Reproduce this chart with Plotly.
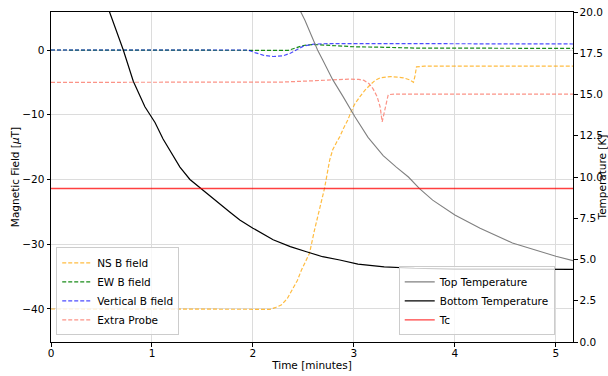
import plotly.graph_objects as go

# ---- magnetic field probes (time in minutes, field in µT) ----
ns_t = [0, 1.0, 1.9, 2.0, 2.1, 2.17, 2.22, 2.28, 2.34, 2.4, 2.44, 2.48, 2.52, 2.56,
        2.61, 2.66, 2.71, 2.76, 2.79, 2.83, 2.86, 2.9, 2.94, 2.97, 3.01, 3.06, 3.11,
        3.16, 3.21, 3.26, 3.31, 3.36, 3.43, 3.49, 3.55, 3.59, 3.605, 3.62, 3.7, 4.0, 5.17]
ns_b = [-40.0, -40.0, -40.05, -40.1, -40.1, -40.05, -39.8, -39.4, -38.4, -36.8, -35.6,
        -34.0, -32.8, -31.4, -27.8, -24.7, -21.3, -17.0, -15.4, -14.2, -13.4, -12.0,
        -10.8, -9.6, -8.3, -7.2, -6.2, -5.4, -4.7, -4.3, -4.15, -4.1, -4.2, -4.3, -4.6,
        -5.0, -4.0, -2.6, -2.5, -2.5, -2.5]

ew_t = [0, 1.95, 2.0, 2.2, 2.35, 2.42, 2.5, 2.6, 2.7, 2.85, 3.0, 3.3, 3.6, 5.17]
ew_b = [0, 0, -0.05, -0.1, -0.05, 0.3, 0.7, 0.85, 0.75, 0.6, 0.5, 0.42, 0.3, 0.25]

vert_t = [0, 1.0, 1.95, 2.02, 2.1, 2.2, 2.3, 2.37, 2.43, 2.5, 2.6, 2.75, 3.0, 3.5, 3.55, 5.17]
vert_b = [0, 0.02, 0, -0.4, -0.8, -1.0, -0.9, -0.5, 0.0, 0.6, 0.9, 1.0, 1.0, 1.0, 0.93, 0.93]

probe_t = [0, 2.0, 2.3, 2.6, 2.8, 2.95, 3.05, 3.1, 3.15, 3.19, 3.23, 3.26, 3.28, 3.3,
           3.32, 3.34, 3.4, 5.17]
probe_b = [-5.0, -5.0, -4.95, -4.75, -4.6, -4.5, -4.55, -4.7, -5.2, -6.0, -7.2, -8.8,
           -11.1, -9.5, -8.2, -6.9, -6.8, -6.8]

# ---- cryostat temperatures (K) ----
top_t = [2.30, 2.45, 2.515, 2.64, 2.69, 2.79, 2.89, 3.01, 3.14, 3.29, 3.42, 3.54, 3.65,
         3.78, 4.0, 4.25, 4.57, 4.84, 5.0, 5.17]
top_temp = [22.5, 20.3, 19.5, 17.7, 17.1, 15.9, 14.9, 13.65, 12.4, 11.3, 10.6, 10.0,
            9.3, 8.6, 7.7, 6.9, 6.0, 5.47, 5.2, 4.93]

bot_t = [0.45, 0.58, 0.716, 0.815, 0.93, 0.997, 1.03, 1.11, 1.2, 1.277, 1.376, 1.475,
         1.57, 1.67, 1.77, 1.87, 2.0, 2.2, 2.37, 2.53, 2.69, 2.86, 3.04, 3.3, 3.6, 4.0,
         4.5, 5.17]
bot_temp = [22.5, 20.0, 17.7, 15.8, 14.26, 13.65, 13.3, 12.3, 11.35, 10.6, 9.85, 9.35,
            8.85, 8.35, 7.88, 7.4, 6.9, 6.2, 5.78, 5.47, 5.17, 4.97, 4.72, 4.55, 4.47,
            4.42, 4.41, 4.40]

tc = 9.3
t_span = [0, 5.17]

FONT = dict(family="DejaVu Sans", size=10.5, color="black")
DASH = "4px,2px"

fig = go.Figure()

field_series = [
    ("NS B field", ns_t, ns_b, "rgba(255,165,0,0.75)"),
    ("EW B field", ew_t, ew_b, "rgba(0,128,0,0.9)"),
    ("Vertical B field", vert_t, vert_b, "rgba(0,0,255,0.7)"),
    ("Extra Probe", probe_t, probe_b, "rgba(250,128,114,0.85)"),
]
for name, t, b, col in field_series:
    fig.add_trace(go.Scatter(x=t, y=b, mode="lines", name=name,
                             line=dict(color=col, width=1.2, dash=DASH),
                             yaxis="y", legend="legend"))

temp_series = [
    ("Top Temperature", top_t, top_temp, "rgba(128,128,128,1)", 1.1),
    ("Bottom Temperature", bot_t, bot_temp, "black", 1.2),
    ("Tc", t_span, [tc, tc], "rgba(255,0,0,0.75)", 1.4),
]
for name, t, v, col, w in temp_series:
    fig.add_trace(go.Scatter(x=t, y=v, mode="lines", name=name,
                             line=dict(color=col, width=w),
                             yaxis="y2", legend="legend2"))

GRID = "#dcdcdc"
fig.update_layout(
    width=608, height=376,
    margin=dict(l=51, r=35, t=12, b=34),
    paper_bgcolor="white", plot_bgcolor="white",
    font=FONT,
    xaxis=dict(range=[0, 5.17], dtick=1, tick0=0, showgrid=True, gridcolor=GRID,
               gridwidth=1, zeroline=False, showline=True, linecolor="black",
               linewidth=1, mirror=True, ticks="outside", ticklen=3.5,
               tickcolor="black", tickfont=FONT, ticklabelstandoff=-2,
               title=dict(text="Time [minutes]", standoff=0, font=FONT),
               automargin=False),
    yaxis=dict(range=[-45.1, 5.87], dtick=10, tick0=0, showgrid=True, gridcolor=GRID,
               gridwidth=1, zeroline=False, showline=True, linecolor="black",
               linewidth=1, ticks="outside", ticklen=3.5, tickcolor="black",
               tickfont=FONT,
               title=dict(text="Magnetic Field [<i>μ</i>T]", standoff=0, font=FONT),
               automargin=False),
    yaxis2=dict(range=[0, 20], dtick=2.5, tick0=0, tickformat=".1f", overlaying="y",
                side="right", showgrid=False, zeroline=False, showline=True,
                linecolor="black", linewidth=1, ticks="outside", ticklen=3.5,
                tickcolor="black", tickfont=FONT,
                title=dict(text="Temperature [K]", standoff=15, font=FONT),
                automargin=False),
    legend=dict(x=0.01, y=0.02, xanchor="left", yanchor="bottom",
                bgcolor="rgba(255,255,255,0.8)", bordercolor="#cccccc", borderwidth=1,
                font=FONT, tracegroupgap=0),
    legend2=dict(x=0.965, y=0.02, xanchor="right", yanchor="bottom",
                 bgcolor="rgba(255,255,255,0.8)", bordercolor="#cccccc", borderwidth=1,
                 font=FONT, tracegroupgap=0),
    showlegend=True,
)

fig.write_html("out.html")
